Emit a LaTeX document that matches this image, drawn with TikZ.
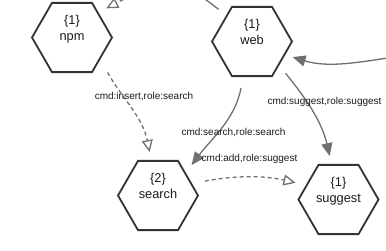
\documentclass[tikz,border=0pt]{standalone}
\usepackage{fontspec}
\setmainfont{Liberation Sans}
\usetikzlibrary{shapes.geometric,arrows.meta}
\definecolor{hexline}{HTML}{333333}
\definecolor{edgecol}{HTML}{707070}
\definecolor{txt}{HTML}{1A1A1A}
\begin{document}
\begin{tikzpicture}[x=1pt,y=1pt,
  hexnode/.style={regular polygon, regular polygon sides=6, minimum size=80pt,
    inner sep=0pt, outer sep=0pt, draw=hexline, line width=1.8pt,
    font=\fontsize{12.8}{14}\selectfont, text=txt, text height=6.6pt, text depth=0pt},
  idtext/.style={font=\fontsize{12.8}{14}\selectfont, text=txt, anchor=base, inner sep=0pt},
  edgelabel/.style={font=\fontsize{10}{12}\selectfont, text=txt, inner sep=0pt},
  solidedge/.style={draw=edgecol, line width=1.3pt, -{Triangle[length=13pt,width=11pt]}},
  dashedge/.style={draw=edgecol, line width=1.3pt, dash pattern=on 4pt off 3pt,
    -{Triangle[open,length=12pt,width=11pt]}}]
\useasboundingbox (0,0) rectangle (386,-250);
\clip (0,0) rectangle (386,-250);

% nodes
\node[hexnode] (npm) at (72,-37.5) {npm};
\node[hexnode] (web) at (252,-41.5) {web};
\node[hexnode] (search) at (158,-195.5) {search};
\node[hexnode] (suggest) at (338.5,-199.5) {suggest};
\node[idtext] (npmid) at ([yshift=12.8pt]npm.center) {\{1\}};
\node[idtext] (webid) at ([yshift=12.8pt]web.center) {\{1\}};
\node[idtext] (searchid) at ([yshift=12.8pt]search.center) {\{2\}};
\node[idtext] (suggestid) at ([yshift=12.8pt]suggest.center) {\{1\}};

% off-picture ends
\coordinate (rin) at (400,-56);
\coordinate (wtop) at (193,10);
\coordinate (ntop) at (142,10);

% connectors
\draw[dashedge, shorten <=16pt, shorten >=9pt] (npm.-37) to[out=-61, in=101] (search.101);
\draw[solidedge, shorten <=12pt, shorten >=10.5pt] (web.-104) to[out=-101, in=53] (search.39);
\draw[solidedge, shorten <=11pt, shorten >=9pt] (web.-41) to[out=-51, in=103] (suggest.101);
\draw[dashedge, shorten <=14pt, shorten >=11.5pt] (search.20) to[out=10, in=167] (suggest.156);
\draw[solidedge, shorten >=8.5pt] (rin) to[out=189, in=-17] (web.-22);
\draw[draw=edgecol, line width=1.3pt, shorten <=10.5pt] (web.134) -- (wtop);
\draw[dashedge, shorten >=9.6pt] (ntop) -- (npm.44);

% labels
\node[edgelabel] (l1) at (144,-97) {cmd:insert,role:search};
\node[edgelabel] (l2) at (233.5,-133) {cmd:search,role:search};
\node[edgelabel] (l3) at (324.5,-101.5) {cmd:suggest,role:suggest};
\node[edgelabel] (l4) at (249.5,-159) {cmd:add,role:suggest};
\end{tikzpicture}
\end{document}
